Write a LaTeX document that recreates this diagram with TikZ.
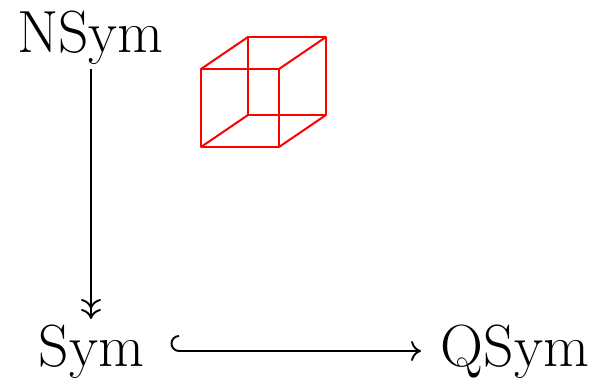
\documentclass[tikz,border=0pt]{standalone}
\usepackage{amsmath,amssymb}
\usepackage{tikz}
\usetikzlibrary{arrows.meta,positioning,calc}
\begin{document}
\begin{tikzpicture}[
  x=1pt, y=-1pt,
  font=\fontsize{59.5}{66}\selectfont,
  barb/.tip={Computer Modern Rightarrow[length=10pt,width=20pt,line width=1.9pt]},
  cube/.style={draw=red, line width=2pt, line join=round},
  mapline/.style={draw=black, line width=1.9pt},
  lbl/.style={inner sep=0pt, anchor=base}]
  \useasboundingbox (0,0) rectangle (596,380);
  \node[lbl] (nsym) at (90.5,52) {NSym};
  \node[lbl] (sym) at (91.5,366) {Sym};
  \node[lbl] (qsym) at (515,366) {QSym};
  \coordinate (nsymb) at (91,69);
  \coordinate (symt) at (91,319);
  \coordinate (syme) at (179,336);
  \coordinate (qsyme) at (421,351);
  \draw[mapline, -{barb[]barb[]}] (nsymb) -- (symt);
  \draw[mapline, -{barb[]}] (syme) arc[start angle=90, end angle=270, radius=7.5pt] -- (qsyme);
  % red cube
  \coordinate (a) at (201,69);
  \coordinate (b) at (279,69);
  \coordinate (c) at (279,147);
  \coordinate (d) at (201,147);
  \coordinate (e) at (248,37);
  \coordinate (f) at (326,37);
  \coordinate (g) at (326,115);
  \coordinate (h) at (248,115);
  \draw[cube] (a) -- (b) -- (c) -- (d) -- cycle;
  \draw[cube] (e) -- (f) -- (g) -- (h) -- cycle;
  \draw[cube] (a) -- (e);
  \draw[cube] (b) -- (f);
  \draw[cube] (c) -- (g);
  \draw[cube] (d) -- (h);
\end{tikzpicture}
\end{document}
